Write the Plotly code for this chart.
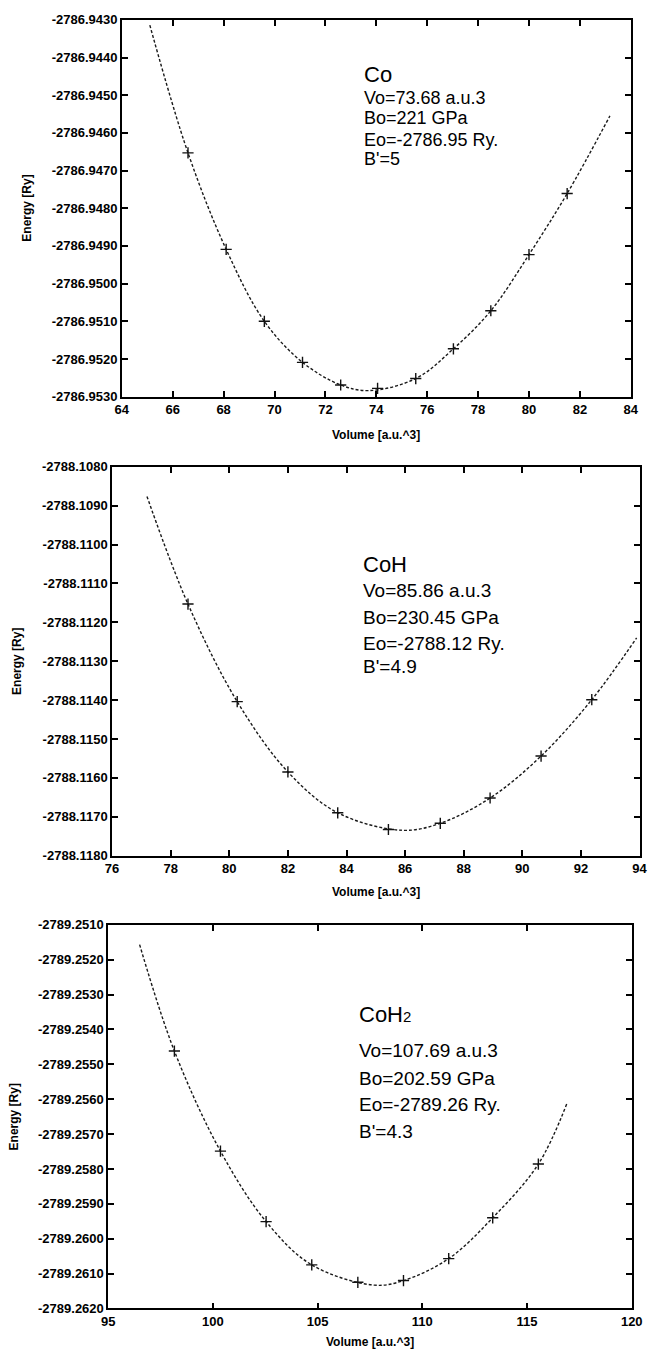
import plotly.graph_objects as go

# ---------------- data ----------------
# Co
co_vol = [66.6, 68.1, 69.6, 71.1, 72.6, 74.05, 75.55, 77.03, 78.5, 80.0, 81.5]
co_en = [-2786.94653, -2786.94909, -2786.95100, -2786.95209, -2786.95269, -2786.95278,
         -2786.95252, -2786.95173, -2786.95072, -2786.94923, -2786.94761]
co_fit_vol = [65.1, 66.6, 68.1, 69.6, 71.1, 72.6, 73.7, 75.55, 77.03, 78.5, 80.0, 81.5, 83.18]
co_fit_en = [-2786.94314, -2786.94653, -2786.94909, -2786.95100, -2786.95209, -2786.95269,
             -2786.95284, -2786.95252, -2786.95173, -2786.95072, -2786.94923, -2786.94761,
             -2786.94555]

# CoH
coh_vol = [78.59, 80.27, 82.0, 83.7, 85.43, 87.2, 88.9, 90.64, 92.37]
coh_en = [-2788.11153, -2788.11404, -2788.11585, -2788.11690, -2788.11733, -2788.11717,
          -2788.11652, -2788.11544, -2788.11399]
coh_fit_vol = [77.19, 78.59, 80.27, 82.0, 83.7, 85.9, 87.2, 88.9, 90.64, 92.37, 93.9]
coh_fit_en = [-2788.10876, -2788.11153, -2788.11404, -2788.11585, -2788.11690, -2788.11735,
              -2788.11717, -2788.11652, -2788.11544, -2788.11399, -2788.11240]

# CoH2
coh2_vol = [98.16, 100.36, 102.54, 104.72, 106.92, 109.1, 111.26, 113.36, 115.54]
coh2_en = [-2789.25462, -2789.25749, -2789.25951, -2789.26075, -2789.26125, -2789.26120,
           -2789.26057, -2789.25940, -2789.25786]
coh2_fit_vol = [96.5, 98.16, 100.36, 102.54, 104.72, 107.7, 109.1, 111.26, 113.36, 115.54, 116.9]
coh2_fit_en = [-2789.25157, -2789.25462, -2789.25749, -2789.25951, -2789.26075, -2789.26133,
               -2789.26120, -2789.26057, -2789.25940, -2789.25786, -2789.25613]

# tick values / labels
co_yticks = [-2786.9430, -2786.9440, -2786.9450, -2786.9460, -2786.9470, -2786.9480,
             -2786.9490, -2786.9500, -2786.9510, -2786.9520, -2786.9530]
co_ylabels = ["-2786.9430", "-2786.9440", "-2786.9450", "-2786.9460", "-2786.9470", "-2786.9480",
              "-2786.9490", "-2786.9500", "-2786.9510", "-2786.9520", "-2786.9530"]
co_xticks = [64, 66, 68, 70, 72, 74, 76, 78, 80, 82, 84]

coh_yticks = [-2788.1080, -2788.1090, -2788.1100, -2788.1110, -2788.1120, -2788.1130,
              -2788.1140, -2788.1150, -2788.1160, -2788.1170, -2788.1180]
coh_ylabels = ["-2788.1080", "-2788.1090", "-2788.1100", "-2788.1110", "-2788.1120", "-2788.1130",
               "-2788.1140", "-2788.1150", "-2788.1160", "-2788.1170", "-2788.1180"]
coh_xticks = [76, 78, 80, 82, 84, 86, 88, 90, 92, 94]

coh2_yticks = [-2789.2510, -2789.2520, -2789.2530, -2789.2540, -2789.2550, -2789.2560,
               -2789.2570, -2789.2580, -2789.2590, -2789.2600, -2789.2610, -2789.2620]
coh2_ylabels = ["-2789.2510", "-2789.2520", "-2789.2530", "-2789.2540", "-2789.2550", "-2789.2560",
                "-2789.2570", "-2789.2580", "-2789.2590", "-2789.2600", "-2789.2610", "-2789.2620"]
coh2_xticks = [95, 100, 105, 110, 115, 120]

co_text = ["Co", "Vo=73.68 a.u.3", "Bo=221 GPa", "Eo=-2786.95 Ry.", "B'=5"]
coh_text = ["CoH", "Vo=85.86 a.u.3", "Bo=230.45 GPa", "Eo=-2788.12 Ry.", "B'=4.9"]
coh2_text = ["CoH<span style='font-size:15px'>2</span>", "Vo=107.69 a.u.3", "Bo=202.59 GPa",
             "Eo=-2789.26 Ry.", "B'=4.3"]

# ---------------- figure ----------------
W, H = 670, 1360
FONT = "Liberation Sans, Arial, sans-serif"

panels = [
    dict(fx=co_fit_vol, fy=co_fit_en, mx=co_vol, my=co_en, yt=co_yticks, yl=co_ylabels,
         xt=co_xticks, xr=[64, 84], yr=[-2786.9530, -2786.9430],
         box=(118, 641, 13, 394), text=co_text, tx=365, ty=[68, 92, 112, 134, 154],
         tsize=[22, 18, 18, 18, 18], xtitle_y=433, ytitle_x=21),
    dict(fx=coh_fit_vol, fy=coh_fit_en, mx=coh_vol, my=coh_en, yt=coh_yticks, yl=coh_ylabels,
         xt=coh_xticks, xr=[76, 94], yr=[-2788.1180, -2788.1080],
         box=(108, 650, 465, 858), text=coh_text, tx=364, ty=[564, 590, 617, 644, 667],
         tsize=[22, 19, 19, 19, 19], xtitle_y=895, ytitle_x=10),
    dict(fx=coh2_fit_vol, fy=coh2_fit_en, mx=coh2_vol, my=coh2_en, yt=coh2_yticks, yl=coh2_ylabels,
         xt=coh2_xticks, xr=[95, 120], yr=[-2789.2620, -2789.2510],
         box=(104, 642, 928, 1316), text=coh2_text, tx=360, ty=[1019, 1055, 1083, 1110, 1137],
         tsize=[22, 19, 19, 19, 19], xtitle_y=1350, ytitle_x=7),
]

fig = go.Figure()
annotations = []
layout = {}
for i, p in enumerate(panels, start=1):
    xa = "x" if i == 1 else f"x{i}"
    ya = "y" if i == 1 else f"y{i}"
    fig.add_trace(go.Scatter(x=p["fx"], y=p["fy"], mode="lines", xaxis=xa, yaxis=ya,
                             line=dict(color="#1a1a1a", width=1.4, dash="3px,2px", shape="spline",
                                       smoothing=1.0),
                             showlegend=False, hoverinfo="skip"))
    fig.add_trace(go.Scatter(x=p["mx"], y=p["my"], mode="markers", xaxis=xa, yaxis=ya,
                             marker=dict(symbol="cross-thin", size=8,
                                         line=dict(color="#111111", width=1.4)),
                             showlegend=False))
    l, r, t, b = p["box"]
    axis_common = dict(showline=True, linecolor="black", linewidth=1.6, mirror="ticks",
                       ticks="inside", ticklen=6, tickwidth=1.5, tickcolor="black",
                       showgrid=False, zeroline=False,
                       tickfont=dict(family=FONT, size=13, color="black", weight="bold"))
    layout["xaxis" if i == 1 else f"xaxis{i}"] = dict(
        axis_common, domain=[l / W, r / W], range=p["xr"], anchor=ya,
        tickmode="array", tickvals=p["xt"], ticktext=[str(v) for v in p["xt"]])
    layout["yaxis" if i == 1 else f"yaxis{i}"] = dict(
        axis_common, domain=[1 - b / H, 1 - t / H], range=p["yr"], anchor=xa,
        tickmode="array", tickvals=p["yt"], ticktext=p["yl"])
    # axis titles
    annotations.append(dict(x=(l + r) / 2 / W, y=1 - p["xtitle_y"] / H, xref="paper", yref="paper",
                            text="Volume [a.u.^3]", showarrow=False, xanchor="center",
                            yanchor="middle",
                            font=dict(family=FONT, size=12, color="black", weight="bold")))
    annotations.append(dict(x=p["ytitle_x"] / W, y=1 - (t + b) / 2 / H, xref="paper", yref="paper",
                            text="Energy [Ry]", showarrow=False, textangle=-90,
                            xanchor="center", yanchor="middle",
                            font=dict(family=FONT, size=12, color="black", weight="bold")))
    # info text
    for txt, yy, fs in zip(p["text"], p["ty"], p["tsize"]):
        annotations.append(dict(x=p["tx"] / W, y=1 - yy / H, xref="paper", yref="paper",
                                text=txt, showarrow=False, xanchor="left", yanchor="middle",
                                font=dict(family=FONT, size=fs, color="black")))

fig.update_layout(width=W, height=H, margin=dict(l=0, r=0, t=0, b=0),
                  paper_bgcolor="white", plot_bgcolor="white",
                  annotations=annotations, **layout)

fig.write_html("out.html")
